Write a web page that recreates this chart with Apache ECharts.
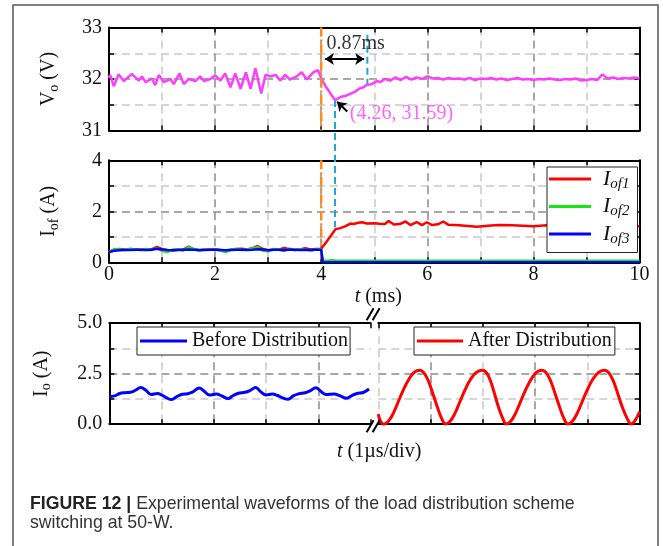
<!DOCTYPE html>
<html><head><meta charset="utf-8">
<script src="https://cdn.jsdelivr.net/npm/echarts@6/dist/echarts.min.js"></script>
<style>html,body{margin:0;padding:0;background:#fff}#c{width:663px;height:546px}</style>
</head><body><div id="c"></div>
<script>
// ---------- Panel 1: output voltage Vo (V) vs t (ms) ----------
const voT = [0.00,0.02,0.09,0.18,0.28,0.43,0.56,0.62,0.69,0.81,0.87,0.94,1.03,1.16,1.22,1.33,1.41,1.50,1.63,1.72,1.79,1.91,2.00,2.10,2.19,2.29,2.38,2.48,2.58,2.67,2.76,2.87,2.95,3.04,3.14,3.23,3.32,3.41,3.54,3.63,3.73,3.85,3.94,4.00,4.05,4.10,4.15,4.20,4.26,4.30,4.36,4.45,4.55,4.65,4.73,4.80,4.86,4.95,5.05,5.11,5.20,5.30,5.40,5.50,5.60,5.70,5.80,5.90,6.00,6.10,6.20,6.30,6.40,6.50,6.60,6.70,6.80,6.90,7.00,7.10,7.20,7.30,7.40,7.50,7.60,7.70,7.80,7.90,8.00,8.10,8.20,8.30,8.40,8.50,8.60,8.70,8.80,8.90,9.00,9.10,9.20,9.30,9.40,9.50,9.60,9.70,9.80,9.90,10.00];
const voV = [32.02,32.08,31.86,32.09,31.96,32.10,31.97,32.05,31.94,32.01,31.88,32.08,31.94,32.00,31.90,32.11,31.90,32.00,31.96,32.05,31.96,32.00,32.07,31.97,32.11,31.84,32.11,31.81,32.13,31.81,32.21,31.72,32.08,32.05,32.08,31.97,32.08,31.99,32.05,32.13,31.99,32.13,32.17,32.02,31.92,31.83,31.76,31.68,31.59,31.61,31.65,31.67,31.71,31.76,31.82,31.84,31.89,31.90,31.96,31.94,32.00,31.97,32.03,31.98,32.04,31.99,32.03,32.00,32.05,32.01,32.02,31.99,32.02,32.00,32.01,31.99,32.02,31.98,32.01,32.00,32.02,31.99,32.01,31.98,32.00,32.02,31.99,32.00,31.98,32.00,31.99,32.01,31.99,31.98,32.00,31.99,32.01,31.97,31.98,32.00,31.98,32.09,32.01,32.03,32.00,32.02,32.01,32.03,32.01];
const voTicksY = [31, 32, 33];

// annotations (data space)
const tSwitch = 4.0;
const tMin = 4.26, vMin = 31.59;
const tSettle = 4.87, vSettle = 31.89;
const spanArrowT = [4.07, 4.81], spanArrowV = 32.39;
const spanText = '0.87ms', spanTextPos = [4.65, 32.69];
const minText = '(4.26, 31.59)', minTextPos = [4.52, 31.33];
const minArrowFrom = [4.49, 31.37], minArrowTo = [4.30, 31.56];

// ---------- Panel 2: Iof (A) vs t (ms) ----------
const ibT = [0.0,0.1,0.2,0.3,0.4,0.5,0.6,0.7,0.8,0.9,1.0,1.1,1.2,1.3,1.4,1.5,1.6,1.7,1.8,1.9,2.0,2.1,2.2,2.3,2.4,2.5,2.6,2.7,2.8,2.9,3.0,3.1,3.2,3.3,3.4,3.5,3.6,3.7,3.8,3.9,4.0];
const iof1B = [0.42,0.50,0.52,0.50,0.49,0.50,0.48,0.50,0.51,0.60,0.52,0.47,0.46,0.49,0.50,0.62,0.50,0.47,0.49,0.50,0.51,0.48,0.46,0.49,0.52,0.53,0.50,0.55,0.64,0.52,0.47,0.50,0.49,0.56,0.51,0.48,0.50,0.55,0.50,0.52,0.53];
const iof2B = [0.38,0.52,0.50,0.48,0.53,0.50,0.49,0.52,0.48,0.56,0.45,0.40,0.50,0.51,0.45,0.60,0.52,0.46,0.50,0.49,0.50,0.46,0.40,0.50,0.52,0.48,0.50,0.54,0.60,0.45,0.43,0.52,0.50,0.45,0.53,0.48,0.51,0.50,0.46,0.50,0.51];
const iof3B = [0.40,0.45,0.47,0.48,0.48,0.49,0.49,0.48,0.49,0.53,0.50,0.48,0.47,0.48,0.49,0.50,0.49,0.48,0.48,0.49,0.49,0.48,0.47,0.48,0.49,0.49,0.48,0.49,0.51,0.50,0.47,0.49,0.49,0.47,0.50,0.49,0.48,0.49,0.48,0.49,0.49];
const iof1AT = [4.03,4.06,4.10,4.15,4.20,4.27,4.36,4.45,4.55,4.61,4.70,4.77,4.86,5.00,5.10,5.20,5.27,5.37,5.48,5.59,5.68,5.80,5.90,5.99,6.09,6.20,6.30,6.40,6.60,6.93,7.20,7.37,7.60,8.00,8.25,8.60,9.00,9.50,10.00];
const iof1A = [0.62,0.70,0.80,0.95,1.09,1.30,1.34,1.41,1.52,1.50,1.55,1.57,1.52,1.53,1.51,1.50,1.62,1.48,1.50,1.60,1.46,1.58,1.46,1.57,1.46,1.49,1.60,1.47,1.45,1.39,1.44,1.46,1.45,1.41,1.45,1.42,1.41,1.41,1.41];
const iof2AT = [4.02,4.05,4.10,4.20,4.30,5.00,6.00,7.00,8.00,9.00,10.00];
const iof2A = [0.20,0.07,0.06,0.08,0.06,0.06,0.06,0.06,0.06,0.06,0.06];
const iof3AT = [4.03,10.00];
const iof3A = [0.00,0.00];

// ---------- Panel 3: Io (A), before / after distribution (1 us/div) ----------
const beforeU = [0.00,0.10,0.20,0.30,0.40,0.50,0.60,0.70,0.80,0.92,1.02,1.10,1.19,1.30,1.40,1.50,1.60,1.72,1.82,1.92,2.05,2.15,2.27,2.37,2.47,2.60,2.70,2.80,2.90,3.00,3.12,3.22,3.32,3.42,3.52,3.62,3.75,3.85,3.95,4.05,4.15,4.30,4.42,4.54,4.64,4.74,4.86,4.97];
const beforeI = [1.36,1.40,1.52,1.56,1.58,1.68,1.82,1.68,1.47,1.52,1.42,1.30,1.22,1.38,1.48,1.51,1.60,1.79,1.62,1.44,1.50,1.40,1.27,1.42,1.53,1.58,1.68,1.82,1.60,1.45,1.49,1.42,1.30,1.23,1.40,1.50,1.56,1.66,1.81,1.62,1.47,1.50,1.40,1.28,1.42,1.52,1.57,1.74];
const afterU = [0.00,0.03,0.07,0.11,0.19,0.28,0.38,0.48,0.58,0.68,0.78,0.86,0.95,1.04,1.13,1.21,1.29,1.37,1.46,1.56,1.66,1.76,1.87,1.98,2.06,2.14,2.22,2.30,2.38,2.45,2.53,2.62,2.72,2.82,2.92,3.02,3.12,3.20,3.29,3.38,3.47,3.55,3.63,3.71,3.80,3.90,4.00,4.10,4.21,4.32,4.40,4.49,4.58,4.67,4.76,4.84,4.92,5.00];
const afterI = [0.50,0.22,0.05,0.00,0.13,0.50,1.10,1.70,2.20,2.55,2.67,2.58,2.20,1.55,0.85,0.30,0.01,0.13,0.50,1.10,1.70,2.20,2.55,2.67,2.58,2.20,1.55,0.85,0.30,0.01,0.13,0.50,1.10,1.70,2.20,2.55,2.67,2.58,2.20,1.55,0.85,0.30,0.01,0.13,0.50,1.10,1.70,2.20,2.55,2.67,2.58,2.20,1.55,0.85,0.30,0.01,0.20,0.62];

const captionBold = 'FIGURE 12 |';
const captionLine1 = ' Experimental waveforms of the load distribution scheme';
const captionLine2 = 'switching at 50-W.';

// ---------- layout / style ----------
const SERIF = 'Liberation Serif';
const DARK = '#8c8c8c', LIGHT = '#c9c9c9';
const MAG = '#ff3dff', RED = '#ff0000', GREEN = '#14e614', BLUE = '#0000ff', ORANGE = '#ff8c1a', CYAN = '#1ea8d2';
const G1 = {left:109, top:27.5, width:530.5, height:103};
const G2 = {left:109, top:160.3, width:530.5, height:102};
const G3L = {left:109.3, top:323.2, width:261.3, height:101};
const G3R = {left:378.3, top:323.2, width:261.2, height:101};

const zip = (a, b) => a.map((v, i) => [v, b[i]]);
const isMult = (v, s) => Math.abs(v / s - Math.round(v / s)) < 1e-6;

function axis(kind, grid, pos, min, max, step, colors, fmt, extra) {
  const a = {
    type: 'value', gridIndex: grid, position: pos, min: min, max: max, interval: step,
    axisLine: {show: true, onZero: false, lineStyle: {color: '#000', width: 2}},
    axisTick: {show: true, inside: true, length: 5, lineStyle: {color: '#000', width: 1.5}},
    axisLabel: fmt ? {show: true, formatter: fmt, fontFamily: SERIF, fontSize: 20, color: '#111', margin: kind === 'x' ? 2 : 7} : {show: false},
    splitLine: colors ? {show: true, lineStyle: {color: colors, type: [8, 5], width: 1.5}} : {show: false}
  };
  return Object.assign(a, extra || {});
}
const nameRich = {
  a: {fontFamily: SERIF, fontSize: 20, color: '#111', fontWeight: 'normal'},
  it: {fontFamily: SERIF, fontSize: 20, color: '#111', fontStyle: 'italic', fontWeight: 'normal'},
  s: {fontFamily: SERIF, fontSize: 14, color: '#111', fontWeight: 'normal', padding: [10, 0, 0, 0]}
};
const yName = (name, gap) => ({name: name, nameLocation: 'middle', nameGap: gap, nameRotate: 90, nameTextStyle: {rich: nameRich}});

const xAxes = [
  axis('x', 0, 'bottom', 0, 10, 1, [DARK, LIGHT], null),
  axis('x', 0, 'top', 0, 10, 1, null, null),
  axis('x', 1, 'bottom', 0, 10, 1, [DARK, LIGHT], v => isMult(v, 2) ? String(v) : '',
       {name: '{it|t}{a| (ms)}', nameLocation: 'middle', nameGap: 24, nameTextStyle: {rich: nameRich, padding: [0, 0, 0, 8]}}),
  axis('x', 1, 'top', 0, 10, 1, null, null),
  axis('x', 2, 'bottom', 0, 5, 1, [DARK, LIGHT], null),
  axis('x', 2, 'top', 0, 5, 1, null, null),
  axis('x', 3, 'bottom', 0, 5, 1, [LIGHT, DARK], null),
  axis('x', 3, 'top', 0, 5, 1, null, null)
];
xAxes[4].splitLine.showMaxLine = false;
const yAxes = [
  axis('y', 0, 'left', voTicksY[0], voTicksY[2], 0.5, [DARK, LIGHT], v => isMult(v, 1) ? String(Math.round(v)) : '', yName('{a|V}{s|o}{a| (V)}', 48)),
  axis('y', 0, 'right', 31, 33, 0.5, null, null),
  axis('y', 1, 'left', 0, 4, 1, [DARK, LIGHT], v => isMult(v, 2) ? String(v) : '', yName('{a|I}{s|of}{a| (A)}', 48)),
  axis('y', 1, 'right', 0, 4, 1, null, null),
  axis('y', 2, 'left', 0, 5, 1.25, [DARK, LIGHT], v => isMult(v, 2.5) ? v.toFixed(1) : '', yName('{a|I}{s|o}{a| (A)}', 56)),
  axis('y', 3, 'right', 0, 5, 1.25, [DARK, LIGHT], null)
];

const lineS = (name, xi, yi, data, color, width, extra) => Object.assign({
  name: name, type: 'line', xAxisIndex: xi, yAxisIndex: yi, data: data, symbol: 'none', showSymbol: false,
  color: color, lineStyle: {color: color, width: width}, silent: true, animation: false
}, extra || {});

const series = [
  lineS('cy1', 0, 0, [[tMin, vMin], [tMin, 29.12]], CYAN, 2, {clip: false, lineStyle: {color: CYAN, width: 2, type: [7, 4]}}),
  lineS('cy2', 0, 0, [[tSettle, 32.86], [tSettle, vSettle]], CYAN, 2, {lineStyle: {color: CYAN, width: 2, type: [7, 4]}}),
  lineS('Vo', 0, 0, zip(voT, voV), MAG, 2.5, {
    markLine: {
      silent: true, animation: false, symbol: ['arrow', 'arrow'], symbolSize: 9,
      label: {show: false}, lineStyle: {color: '#000', width: 2, type: 'solid'},
      data: [
        [{coord: [spanArrowT[0], spanArrowV]}, {coord: [spanArrowT[1], spanArrowV]}],
        [{coord: minArrowFrom, symbol: 'none'}, {coord: minArrowTo, symbol: 'arrow'}]
      ]
    }
  }),
  lineS('sw1', 0, 0, [[tSwitch, 33], [tSwitch, 31]], ORANGE, 2.5, {lineStyle: {color: ORANGE, width: 2.5, type: [9, 3, 2, 3]}, z: 3}),
  {type: 'scatter', xAxisIndex: 0, yAxisIndex: 0, symbolSize: 2, silent: true, animation: false, z: 6,
   itemStyle: {color: 'rgba(0,0,0,0)'},
   labelLayout: {hideOverlap: false},
   data: [{value: spanTextPos, label: {show: true, position: 'inside', formatter: spanText, color: '#000', fontFamily: SERIF, fontSize: 20}},
          {value: minTextPos, label: {show: true, position: 'right', distance: 0, formatter: minText, color: MAG, fontFamily: SERIF, fontSize: 20}}]},
  lineS('sw2', 2, 2, [[tSwitch, 4], [tSwitch, 0]], ORANGE, 2.5, {lineStyle: {color: ORANGE, width: 2.5, type: [9, 3, 2, 3]}}),
  lineS('Iof1', 2, 2, zip(ibT, iof1B).concat(zip(iof1AT, iof1A)), RED, 2.5),
  lineS('Iof2', 2, 2, zip(ibT, iof2B).concat(zip(iof2AT, iof2A)), GREEN, 2.5),
  lineS('Iof3', 2, 2, zip(ibT, iof3B).concat(zip(iof3AT, iof3A)), BLUE, 2.5),
  lineS('Before Distribution', 4, 4, zip(beforeU, beforeI), BLUE, 3, {smooth: 0.4}),
  lineS('After Distribution', 6, 5, zip(afterU, afterI), RED, 3, {smooth: 0.4})
];

const legRich = {
  i: {fontFamily: SERIF, fontSize: 22, fontStyle: 'italic', color: '#111'},
  s: {fontFamily: SERIF, fontSize: 15, fontStyle: 'italic', color: '#111', padding: [10, 0, 0, 0]}
};
const legNames = {Iof1: '{i|I}{s|of1}', Iof2: '{i|I}{s|of2}', Iof3: '{i|I}{s|of3}'};
const legBase = {orient: 'vertical', icon: 'rect', itemHeight: 3, backgroundColor: '#fff', borderColor: '#222', borderWidth: 1, borderRadius: 0, selectedMode: false, z: 10};

// break marks positions derived from grid layout
const bx = G3L.left + G3L.width - 4;
const breakMarks = [];
[G3L.top - 3, G3L.top + G3L.height + 8].forEach(yb => {
  [0, 6].forEach(dx => breakMarks.push({type: 'line', shape: {x1: bx + dx, y1: yb, x2: bx + dx + 7, y2: yb - 12}, style: {stroke: '#000', lineWidth: 2}, z: 20}));
});

const chart = echarts.init(document.getElementById('c'), null, {renderer: 'canvas'});
chart.setOption({
  animation: false,
  backgroundColor: '#fff',
  grid: [G1, G2, G3L, G3R].map(g => Object.assign({containLabel: false, outerBoundsMode: 'none'}, g)),
  xAxis: xAxes,
  yAxis: yAxes,
  series: series,
  legend: [
    Object.assign({}, legBase, {data: ['Iof1', 'Iof2', 'Iof3'], left: 547, top: 167, padding: [1, 8, 6, 2], itemWidth: 42, itemGap: 4,
      formatter: n => legNames[n], textStyle: {rich: legRich, padding: [0, 0, 0, 7]}}),
    Object.assign({}, legBase, {data: ['Before Distribution'], left: 137, top: 327, padding: [3, 2, 3, 3], itemWidth: 47,
      textStyle: {fontFamily: SERIF, fontSize: 20, color: '#111', lineHeight: 22}}),
    Object.assign({}, legBase, {data: ['After Distribution'], left: 414, top: 327, padding: [3, 3, 3, 3], itemWidth: 46,
      textStyle: {fontFamily: SERIF, fontSize: 20, color: '#111', lineHeight: 22}})
  ],
  title: {text: '{it|t}{a| (1µs/div)}', left: 337, top: 442, padding: 0, textStyle: {fontWeight: 'normal', rich: nameRich}},
  graphic: [
    {type: 'rect', shape: {x: 13, y: 5, width: 645, height: 600}, style: {fill: 'none', stroke: '#555', lineWidth: 1.5}, silent: true},
    {type: 'text', x: 30, y: 504, silent: true, style: {text: '{b|' + captionBold + '}' + captionLine1, verticalAlign: 'middle',
      fontFamily: 'Liberation Sans', fontSize: 17.7, fill: '#333', rich: {b: {fontFamily: 'Liberation Sans', fontSize: 17.7, fontWeight: 'bold', fill: '#222'}}}},
    {type: 'text', x: 30, y: 523, silent: true, style: {text: captionLine2, verticalAlign: 'middle', fontFamily: 'Liberation Sans', fontSize: 17.7, fill: '#333'}}
  ].concat(breakMarks)
});
</script></body></html>
